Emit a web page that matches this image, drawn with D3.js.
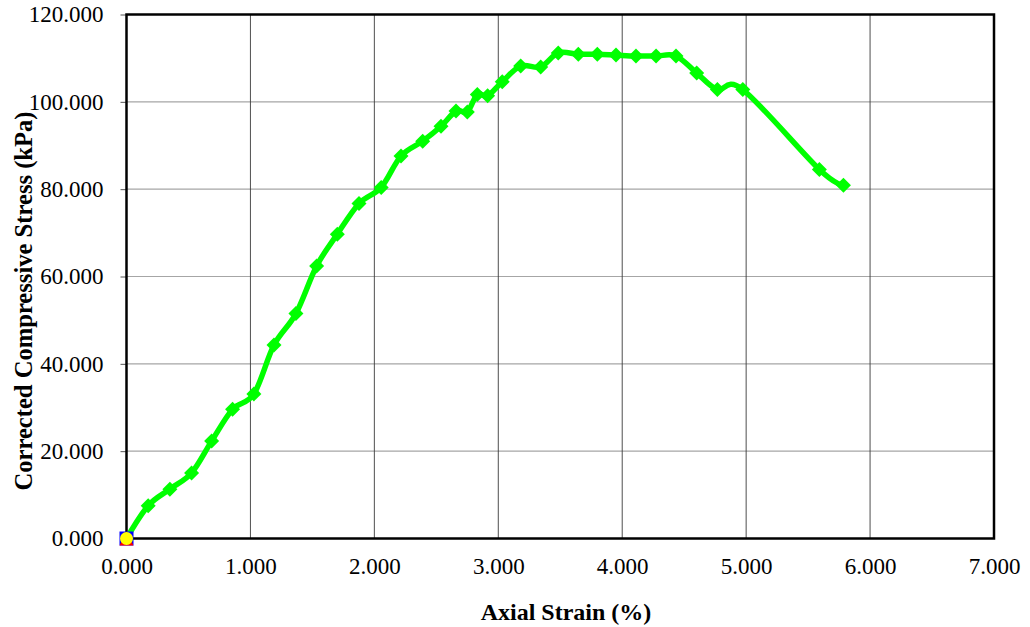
<!DOCTYPE html>
<html>
<head>
<meta charset="utf-8">
<script src="https://cdn.jsdelivr.net/npm/d3@7"></script>
<style>
  body { margin: 0; background: #fff; }
  svg text { font-family: 'Liberation Serif', 'Times New Roman', Times, 'DejaVu Serif', serif; }
</style>
</head>
<body>
<div id="chart"></div>
<script>
// values
const axialStrain = [0, 0.175, 0.350, 0.525, 0.687, 0.856, 1.028, 1.190, 1.367, 1.534,
    1.701, 1.876, 2.055, 2.215, 2.390, 2.538, 2.659, 2.750, 2.831, 2.914,
    3.032, 3.181, 3.342, 3.484, 3.646, 3.799, 3.950, 4.111, 4.273, 4.434,
    4.601, 4.768, 4.973, 5.591, 5.785];
const correctedStress = [0, 7.5, 11.3, 15.0, 22.3, 29.6, 33.1, 44.3, 51.5, 62.4,
    69.7, 76.7, 80.4, 87.6, 91.0, 94.4, 97.9, 97.7, 101.7, 101.4,
    104.6, 108.2, 108.0, 111.2, 110.9, 110.9, 110.7, 110.5, 110.5, 110.5,
    106.6, 102.8, 102.8, 84.5, 80.9];
const xTicks = [0, 1, 2, 3, 4, 5, 6, 7];
const yTicks = [0, 20, 40, 60, 80, 100, 120];
const xAxisLabel = 'Axial Strain (%)';
const yAxisLabel = 'Corrected Compressive Stress (kPa)';

const width = 1030, height = 627;
const margin = {top: 14.5, right: 36, bottom: 88.5, left: 126.5};
const fontFamily = "'Liberation Serif', 'Times New Roman', Times, 'DejaVu Serif', serif";

const svg = d3.select('#chart').append('svg')
    .attr('width', width)
    .attr('height', height);

const xScale = d3.scaleLinear()
    .domain([0, 7])
    .range([margin.left, width - margin.right]);

const yScale = d3.scaleLinear()
    .domain([0, 120])
    .range([height - margin.bottom, margin.top]);

// horizontal grid (light grey)
svg.append('g')
    .selectAll('line')
    .data(yTicks)
    .enter().append('line')
    .attr('x1', xScale(0)).attr('x2', xScale(7))
    .attr('y1', d => yScale(d)).attr('y2', d => yScale(d))
    .attr('stroke', '#a6a6a6')
    .attr('stroke-width', 1.2);

// vertical grid (dark)
svg.append('g')
    .selectAll('line')
    .data(xTicks)
    .enter().append('line')
    .attr('x1', d => xScale(d)).attr('x2', d => xScale(d))
    .attr('y1', yScale(0)).attr('y2', yScale(120))
    .attr('stroke', '#3a3a3a')
    .attr('stroke-width', 0.9);

const yAxis = d3.axisLeft(yScale)
    .tickValues(yTicks)
    .tickFormat(d3.format('.3f'))
    .tickSize(6)
    .tickPadding(17)
    .tickSizeOuter(0);

const gYAxis = svg.append('g')
    .attr('class', 'y axis')
    .attr('transform', `translate(${margin.left},0)`)
    .call(yAxis)
    .attr('font-family', fontFamily);
gYAxis.select('.domain').remove();
gYAxis.selectAll('.tick line').attr('stroke', '#555');
gYAxis.selectAll('.tick text')
    .attr('font-size', 23)
    .attr('fill', '#000');

const xAxis = d3.axisBottom(xScale)
    .tickValues(xTicks)
    .tickFormat(d3.format('.3f'))
    .tickSize(0)
    .tickPadding(19)
    .tickSizeOuter(0);

const gXAxis = svg.append('g')
    .attr('class', 'x axis')
    .attr('transform', `translate(0,${height - margin.bottom})`)
    .call(xAxis)
    .attr('font-family', fontFamily);
gXAxis.select('.domain').remove();
gXAxis.selectAll('.tick text')
    .attr('font-size', 23)
    .attr('fill', '#000');

// plot border
svg.append('rect')
    .attr('x', xScale(0)).attr('y', yScale(120))
    .attr('width', xScale(7) - xScale(0))
    .attr('height', yScale(0) - yScale(120))
    .attr('fill', 'none')
    .attr('stroke', '#000')
    .attr('stroke-width', 2.5);

// axis titles
svg.append('text')
    .attr('x', 566)
    .attr('y', 620)
    .attr('text-anchor', 'middle')
    .attr('font-family', fontFamily)
    .attr('font-size', 24)
    .attr('font-weight', 'bold')
    .text(xAxisLabel);

svg.append('text')
    .attr('transform', `translate(32,301) rotate(-90)`)
    .attr('text-anchor', 'middle')
    .attr('font-family', fontFamily)
    .attr('font-size', 24.6)
    .attr('font-weight', 'bold')
    .text(yAxisLabel);

const points = axialStrain.map((s, i) => ({x: s, y: correctedStress[i]}));

const line = d3.line()
    .x(d => xScale(d.x))
    .y(d => yScale(d.y))
    .curve(d3.curveCardinal.tension(0));

svg.append('path')
    .datum(points)
    .attr('d', line)
    .attr('fill', 'none')
    .attr('stroke', '#00ff00')
    .attr('stroke-width', 5.5)
    .attr('stroke-linejoin', 'round');

const diamond = 'M0,-7.5L7.5,0L0,7.5L-7.5,0Z';
svg.append('g')
    .selectAll('path')
    .data(points.slice(1))
    .enter().append('path')
    .attr('d', diamond)
    .attr('transform', d => `translate(${xScale(d.x)},${yScale(d.y)})`)
    .attr('fill', '#00ff00');

// origin markers (other series sitting at 0,0)
const ox = xScale(0), oy = yScale(0);
svg.append('rect')
    .attr('x', ox - 7).attr('y', oy - 7)
    .attr('width', 14).attr('height', 14)
    .attr('fill', '#0000ff');
svg.append('path')
    .attr('d', `M${ox - 7},${oy + 7}L${ox},${oy - 7}L${ox + 7},${oy + 7}Z`)
    .attr('fill', '#ff0000');
svg.append('circle')
    .attr('cx', ox).attr('cy', oy)
    .attr('r', 6.5)
    .attr('fill', '#ffff00');
</script>
</body>
</html>
